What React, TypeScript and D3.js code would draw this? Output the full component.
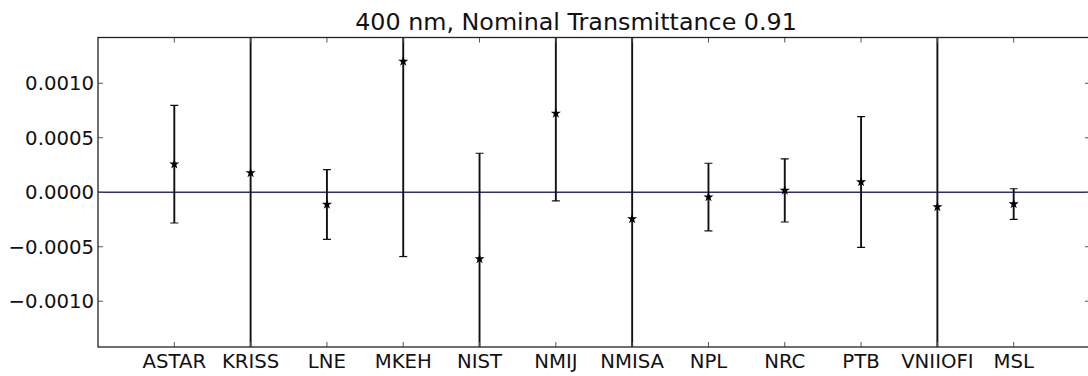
import * as d3 from "d3";

const labs = ["ASTAR", "KRISS", "LNE", "MKEH", "NIST", "NMIJ", "NMISA", "NPL", "NRC", "PTB", "VNIIOFI", "MSL"];
const vals = [0.000258, 0.000177, -0.000112, 0.0012, -0.000612, 0.000723, -0.000244, -0.000044, 0.000017, 0.000094, -0.000134, -0.000108];
const errs = [0.00054, 0.0035, 0.00032, 0.00179, 0.00097, 0.000803, 0.0035, 0.00031, 0.00029, 0.0006, 0.0035, 0.00014];
const yTicks = [-0.001, -0.0005, 0, 0.0005, 0.001];
const title = "400 nm, Nominal Transmittance 0.91";

export default function App({
  width = 1088,
  height = 376,
  marginTop = 37.5,
  marginBottom = 29,
  marginLeft = 98,
  plotRight = 1090
}) {
  const x = d3.scaleLinear([0, labs.length + 1], [marginLeft, plotRight]);
  const y = d3.scaleLinear([-0.00142, 0.00142], [height - marginBottom, marginTop]);
  const star = d3.symbol(d3.symbolStar, 32)();
  const fmt = (d: number) => d3.format(".4f")(d).replace("-", "\u2212");
  const font = "'DejaVu Sans', sans-serif";
  const y0 = y.range()[1], y1 = y.range()[0];

  return (
    <svg width={width} height={height} style={{position: "absolute", left: 0, top: 0}} fontFamily={font}>
      <defs>
        <clipPath id="plot">
          <rect x={marginLeft} y={y0} width={plotRight - marginLeft} height={y1 - y0} />
        </clipPath>
      </defs>
      <rect width={width} height={height} fill="white" />
      <g clipPath="url(#plot)">
        <line x1={marginLeft} x2={plotRight} y1={y(0)} y2={y(0)} stroke="#2e2e72" strokeWidth={1.5} />
        {vals.map((v, i) => {
          const cx = x(i + 1);
          return (
            <g key={i} stroke="#111" strokeWidth={1.9}>
              <line x1={cx} x2={cx} y1={y(v + errs[i])} y2={y(v - errs[i])} />
              <line x1={cx - 4} x2={cx + 4} y1={y(v + errs[i])} y2={y(v + errs[i])} strokeWidth={1.2} />
              <line x1={cx - 4} x2={cx + 4} y1={y(v - errs[i])} y2={y(v - errs[i])} strokeWidth={1.2} />
              <path d={star} transform={`translate(${cx},${y(v)})`} fill="black" stroke="none" />
            </g>
          );
        })}
      </g>
      <g stroke="#555" strokeWidth={1}>
        {labs.map((d, i) => (
          <g key={d}>
            <line x1={x(i + 1)} x2={x(i + 1)} y1={y0} y2={y0 + 5} />
            <line x1={x(i + 1)} x2={x(i + 1)} y1={y1} y2={y1 - 5} />
          </g>
        ))}
        {yTicks.map((t, i) => (
          <g key={i}>
            <line x1={marginLeft} x2={marginLeft + 5} y1={y(t)} y2={y(t)} />
            <line x1={plotRight} x2={plotRight - 5} y1={y(t)} y2={y(t)} />
          </g>
        ))}
      </g>
      <rect x={marginLeft} y={y0} width={plotRight - marginLeft} height={y1 - y0} fill="none" stroke="#222" strokeWidth={1.3} />
      <g fontSize={19.7} fill="#111">
        {yTicks.map((t, i) => (
          <text key={i} x={marginLeft - 4} y={y(t)} dy="0.36em" textAnchor="end">{fmt(t)}</text>
        ))}
        {labs.map((d, i) => (
          <text key={d} x={x(i + 1)} y={368} textAnchor="middle">{d}</text>
        ))}
      </g>
      <text x={576} y={30} textAnchor="middle" fontSize={23.8} fill="#111">{title}</text>
    </svg>
  );
}
